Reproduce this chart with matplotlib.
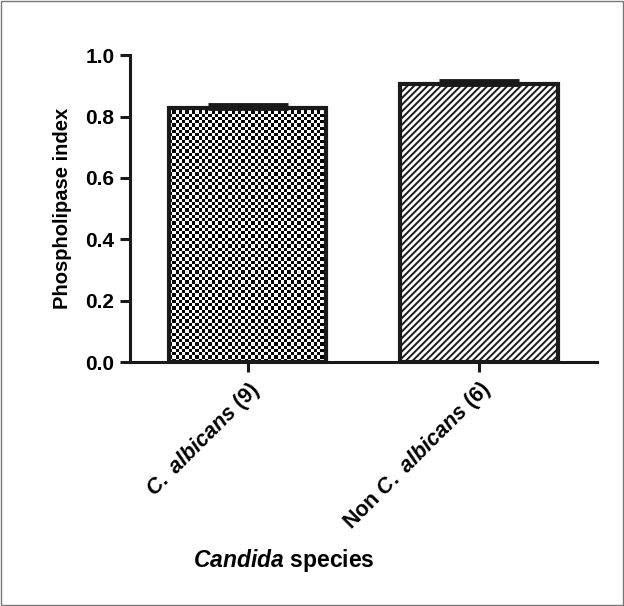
import matplotlib
matplotlib.use("Agg")
import matplotlib.pyplot as plt
import matplotlib.transforms as mtransforms
from matplotlib.patches import Rectangle
import numpy as np

plt.rcParams["font.family"] = "Liberation Sans"
plt.rcParams["font.weight"] = "bold"
plt.rcParams["mathtext.fontset"] = "custom"
plt.rcParams["mathtext.it"] = "Liberation Sans:italic:bold"
plt.rcParams["mathtext.rm"] = "Liberation Sans:bold"
plt.rcParams["hatch.linewidth"] = 1.4

categories = [r"$\it{C.\ albicans}$ (9)", r"Non $\it{C.\ albicans}$ (6)"]
values = [0.828, 0.906]
errors = [0.010, 0.010]
yticks = [0.0, 0.2, 0.4, 0.6, 0.8, 1.0]

fig = plt.figure(figsize=(6.24, 6.06), dpi=100)
ax = fig.add_axes([0.208, 0.4026, 0.749, 0.5064])

x = list(range(len(categories)))
w = 0.68
bars = ax.bar(x, values, width=w, color="white", edgecolor="#1a1a1a",
              linewidth=3, zorder=2)
bars[0].set_facecolor("none")
bars[0].set_zorder(3)
bars[1].set_hatch("/////")

# checkerboard fill for the first bar
b = bars[0]
checker = (np.add.outer(np.arange(78), np.arange(48)) % 2).astype(float)
im = ax.imshow(checker, cmap="gray", vmin=0, vmax=1, interpolation="nearest",
               extent=[b.get_x(), b.get_x() + w, 0, values[0]],
               aspect="auto", zorder=2)
im.set_clip_path(b)

ax.errorbar(x, values, yerr=[[0, 0], errors], fmt="none", ecolor="#1a1a1a",
            elinewidth=3, capsize=29, capthick=3.5, zorder=3)

ax.set_xlim(-0.51, 1.51)
ax.set_ylim(0, 1.0)
ax.set_yticks(yticks)
ax.set_yticklabels([f"{t:.1f}" for t in yticks], fontsize=15, fontweight="bold")
ax.set_xticks(x)
ax.set_xticklabels(categories, rotation=45, ha="right", va="top",
                   rotation_mode="anchor", fontsize=15.5, fontweight="bold")
offset = mtransforms.ScaledTranslation(-0.09, 0, fig.dpi_scale_trans)
for lab in ax.get_xticklabels():
    lab.set_transform(lab.get_transform() + offset)

for s in ["top", "right"]:
    ax.spines[s].set_visible(False)
for s in ["left", "bottom"]:
    ax.spines[s].set_linewidth(2.2)
    ax.spines[s].set_color("#1a1a1a")
ax.tick_params(axis="both", direction="out", length=7, width=2.2, color="#1a1a1a", pad=4)

ax.set_ylabel("Phospholipase index", fontsize=14.5, fontweight="bold", labelpad=10)
fig.text(0.455, 0.075, r"$\it{Candida}$ species", fontsize=16.5, fontweight="bold",
         ha="center", va="center")

fig.patches.append(Rectangle((0.001, 0.001), 0.998, 0.998, transform=fig.transFigure,
                             fill=False, edgecolor="#777777", linewidth=1))

fig.savefig("out.png", dpi=100)
